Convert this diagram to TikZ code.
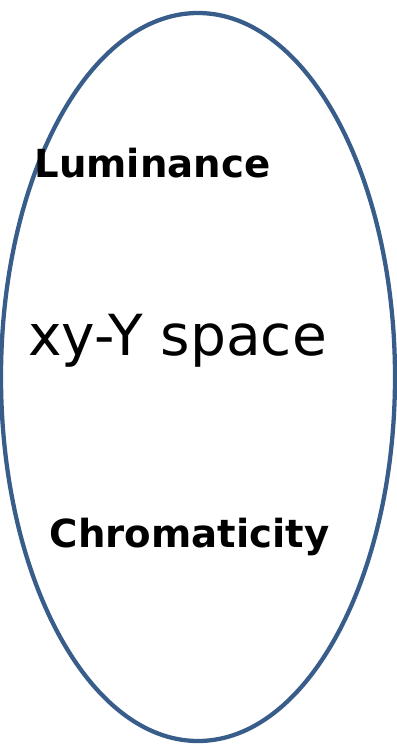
\documentclass[tikz,border=0pt]{standalone}
\usepackage{fontspec}
\setmainfont{DejaVu Sans}
\usetikzlibrary{shapes.geometric,positioning}
\definecolor{ovblue}{RGB}{56,93,138}
\tikzset{
  oval/.style={ellipse, draw=ovblue, line width=3.2pt, inner sep=0pt,
               minimum width=295.5pt, minimum height=546pt},
  blab/.style={font=\fontsize{29}{31}\selectfont\bfseries, anchor=base, inner sep=0pt},
  mlab/.style={font=\fontsize{42.5}{45}\selectfont, anchor=base, inner sep=0pt},
}

\begin{document}
\begin{tikzpicture}[x=0.75pt, y=-0.75pt]
        \useasboundingbox (0,0) rectangle (397,744);
        \node[oval] (space) at (198,377) {};
        \node[blab] (lum) at (152.5,177.5) {Luminance};
        \node[mlab] (xyy) at (177.5,355) {xy-Y space};
        \node[blab] (chr) at (189.5,547.5) {Chromaticity};
      \end{tikzpicture}
\end{document}
